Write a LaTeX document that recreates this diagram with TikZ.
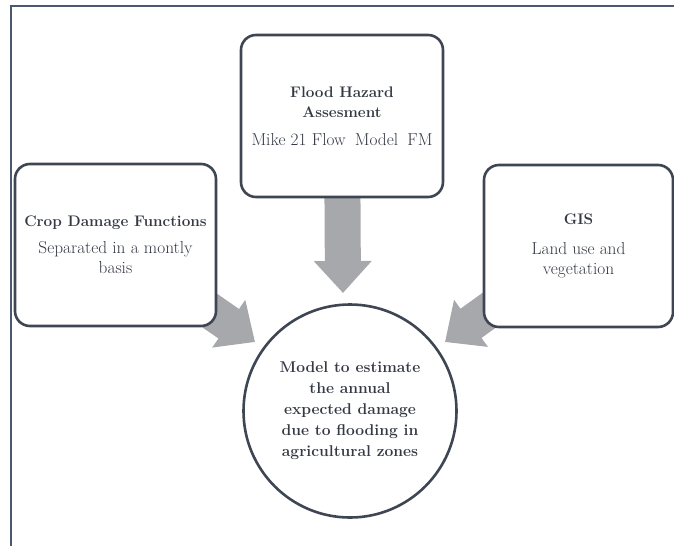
\documentclass[tikz,border=0pt]{standalone}
\usepackage{fontspec}
\usetikzlibrary{arrows.meta,backgrounds}
\definecolor{txt}{HTML}{343944}
\definecolor{edge}{HTML}{3F4653}
\definecolor{framec}{HTML}{4A5870}
\definecolor{arr}{HTML}{A7A8AC}
\newcommand{\ttlf}{\fontsize{15.3}{20}\bfseries\selectfont}
\newcommand{\subf}{\fontsize{17.3}{21}\selectfont\addfontfeature{FakeBold=0.3}}
\begin{document}
\begin{tikzpicture}[x=1pt,y=-1pt,
  box/.style={draw=edge, line width=2.6pt, rounded corners=15pt, fill=white,
    text=txt, align=center, inner sep=0pt, minimum height=162pt,
    font=\fontsize{16}{20}\selectfont},
  roundbox/.style={circle, draw=edge, line width=2.6pt, fill=white,
    text=txt, align=center, inner sep=0pt, minimum size=213pt,
    font=\fontsize{15.6}{21}\bfseries\selectfont},
  flow/.style={draw=arr, line width=36pt,
    -{Triangle[width=56pt,length=32pt]}},
  frameline/.style={draw=framec, line width=2pt}]
\useasboundingbox (0,0) rectangle (674,546);
\draw[frameline] (11,546) -- (11,6) -- (674,6);
\node[box, minimum width=202pt] (flood) at (342,116)
  {{\ttlf Flood Hazard}\\{\ttlf Assesment}\\[8pt]{\subf Mike 21 Flow\hspace{4pt} Model\hspace{4pt} FM}};
\node[box, minimum width=201pt] (crop) at (115.5,245)
  {{\ttlf Crop Damage Functions}\\[7pt]{\subf Separated in a montly}\\{\subf basis}};
\node[box, minimum width=189pt] (gis) at (578.5,246)
  {{\ttlf GIS}\\[10pt]{\subf Land use and}\\{\subf vegetation}};
\node[roundbox] (model) at (350,411)
  {Model to estimate\\the annual\\expected damage\\due to flooding in\\agricultural zones};
\coordinate (tipT) at (343,293);
\coordinate (tipL) at (255,342);
\coordinate (tipR) at (445,342);
\begin{scope}[on background layer]
\draw[flow] (flood.center) -- (tipT);
\draw[flow] (crop.center) -- (tipL);
\draw[flow] (gis.center) -- (tipR);
\end{scope}
\end{tikzpicture}
\end{document}
